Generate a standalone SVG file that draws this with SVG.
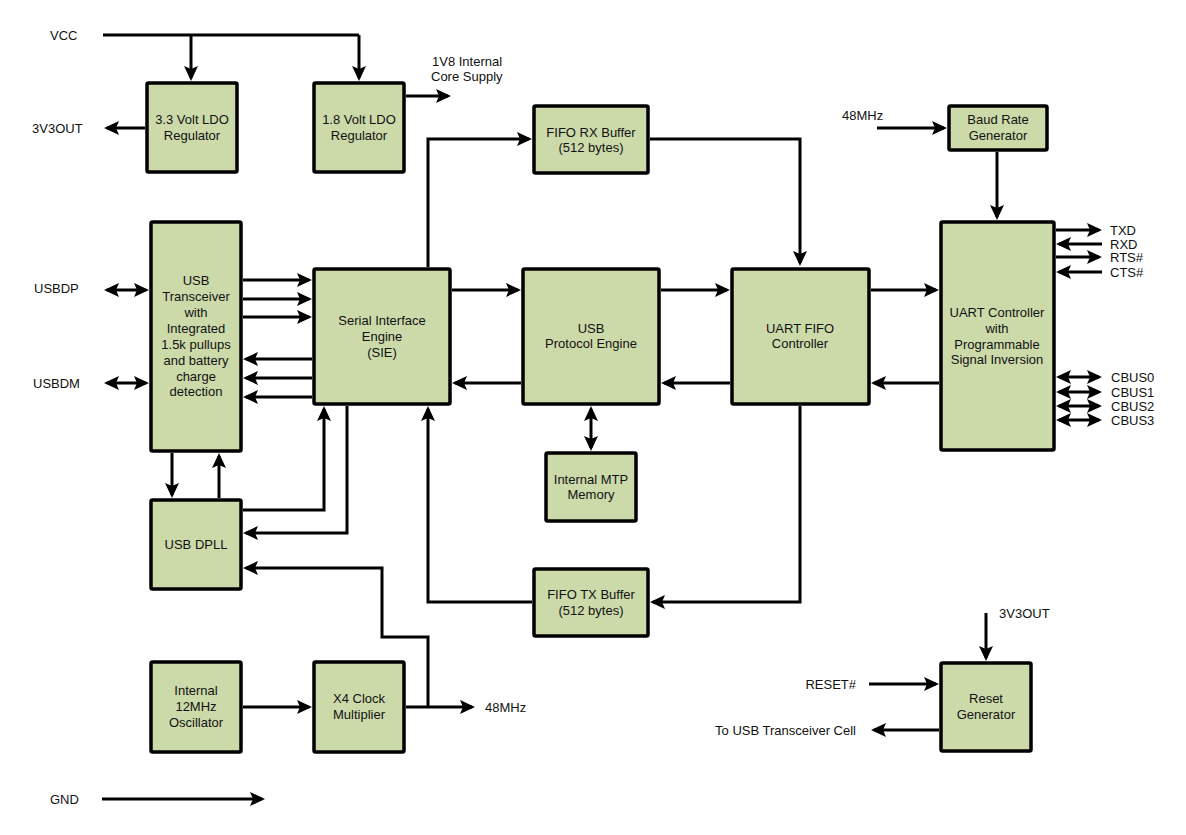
<svg xmlns="http://www.w3.org/2000/svg" width="1186" height="835" viewBox="0 0 1186 835">
<style>
.box{fill:#ccdaaa;stroke:#000;stroke-width:3.5;}
.t{font-family:"Liberation Sans",Arial,sans-serif;font-size:13px;fill:#111;text-anchor:middle;}
.l{font-family:"Liberation Sans",Arial,sans-serif;font-size:13px;fill:#111;}
.r{text-anchor:end;}
.c{fill:none;stroke:#000;stroke-width:3;}
.a{marker-end:url(#ah);}
.d{marker-start:url(#ah);marker-end:url(#ah);}
</style>
<defs>
<marker id="ah" markerUnits="userSpaceOnUse" markerWidth="15" markerHeight="14" refX="12" refY="7" orient="auto-start-reverse">
<path d="M0,0 L15,7 L0,14 L3,7 z" fill="#000"/>
</marker>
</defs>
<rect width="1186" height="835" fill="#fff"/>

<g id="connectors">
<path class="c" d="M103,35 H359"/>
<path class="c a" d="M191,35 V78"/>
<path class="c a" d="M359,35 V78"/>
<path class="c a" d="M145,128 H107"/>
<path class="c a" d="M406,96 H448"/>
<path class="c a" d="M428,267 V139 H529"/>
<path class="c a" d="M650,139 H800 V263"/>
<path class="c a" d="M877,128 H944"/>
<path class="c a" d="M997,152 V217"/>
<path class="c a" d="M1056,230 H1099"/>
<path class="c a" d="M1102,244 H1059"/>
<path class="c a" d="M1056,257 H1099"/>
<path class="c a" d="M1102,272 H1059"/>
<path class="c d" d="M1059,377 H1099"/>
<path class="c d" d="M1059,392 H1099"/>
<path class="c d" d="M1059,406 H1099"/>
<path class="c d" d="M1059,420 H1099"/>
<path class="c d" d="M107,290 H146"/>
<path class="c d" d="M107,383 H146"/>
<path class="c a" d="M243,280 H309"/>
<path class="c a" d="M243,299 H309"/>
<path class="c a" d="M243,317 H309"/>
<path class="c a" d="M312,359 H246"/>
<path class="c a" d="M312,378 H246"/>
<path class="c a" d="M312,397 H246"/>
<path class="c a" d="M452,290 H518"/>
<path class="c a" d="M661,290 H727"/>
<path class="c a" d="M871,290 H936"/>
<path class="c a" d="M939,383 H874"/>
<path class="c a" d="M730,383 H664"/>
<path class="c a" d="M521,383 H455"/>
<path class="c d" d="M591,409 V448"/>
<path class="c a" d="M800,406 V602 H653"/>
<path class="c a" d="M532,602 H428 V409"/>
<path class="c a" d="M172,453 V495"/>
<path class="c a" d="M219,498 V456"/>
<path class="c a" d="M243,510 H324 V409"/>
<path class="c a" d="M347,406 V533 H246"/>
<path class="c a" d="M406,707 H472"/>
<path class="c a" d="M428,707 V637 H382 V568 H246"/>
<path class="c a" d="M243,707 H309"/>
<path class="c a" d="M102,799 H262"/>
<path class="c a" d="M986,613 V658"/>
<path class="c a" d="M869,684 H936"/>
<path class="c a" d="M939,730 H874"/>
</g>

<g id="ldo33"><rect class="box" x="147" y="83" width="90" height="89" rx="1.5"/>
<text class="t" x="192" y="123.5">3.3 Volt LDO</text><text class="t" x="192" y="139.5">Regulator</text></g>
<g id="ldo18"><rect class="box" x="314" y="83" width="90" height="89" rx="1.5"/>
<text class="t" x="359" y="123.5">1.8 Volt LDO</text><text class="t" x="359" y="139.5">Regulator</text></g>
<g id="fiforx"><rect class="box" x="534" y="106" width="114" height="67" rx="1.5"/>
<text class="t" x="591" y="136.5">FIFO RX Buffer</text><text class="t" x="591" y="151.5">(512 bytes)</text></g>
<g id="baud"><rect class="box" x="949" y="106" width="98" height="44" rx="1.5"/>
<text class="t" x="998" y="123.5">Baud Rate</text><text class="t" x="998" y="139.5">Generator</text></g>
<g id="transceiver"><rect class="box" x="151" y="222" width="90" height="229" rx="1.5"/>
<text class="t" x="196" y="284.5">USB</text>
<text class="t" x="196" y="300.5">Transceiver</text>
<text class="t" x="196" y="317">with</text>
<text class="t" x="196" y="333">Integrated</text>
<text class="t" x="196" y="348.5">1.5k pullups</text>
<text class="t" x="196" y="364.5">and battery</text>
<text class="t" x="196" y="380.5">charge</text>
<text class="t" x="196" y="395.5">detection</text></g>
<g id="sie"><rect class="box" x="314" y="269" width="136" height="135" rx="1.5"/>
<text class="t" x="382" y="324.5">Serial Interface</text><text class="t" x="382" y="340.5">Engine</text><text class="t" x="382" y="356.5">(SIE)</text></g>
<g id="protocol"><rect class="box" x="523" y="269" width="136" height="135" rx="1.5"/>
<text class="t" x="591" y="332.5">USB</text><text class="t" x="591" y="347.5">Protocol Engine</text></g>
<g id="uartfifo"><rect class="box" x="732" y="269" width="137" height="135" rx="1.5"/>
<text class="t" x="800" y="332.5">UART FIFO</text><text class="t" x="800" y="347.5">Controller</text></g>
<g id="uartctrl"><rect class="box" x="941" y="222" width="113" height="228" rx="1.5"/>
<text class="t" x="997" y="316.5">UART Controller</text><text class="t" x="997" y="333">with</text><text class="t" x="997" y="348.5">Programmable</text><text class="t" x="997" y="364">Signal Inversion</text></g>
<g id="mtp"><rect class="box" x="546" y="453" width="90" height="68" rx="1.5"/>
<text class="t" x="591" y="483.5">Internal MTP</text><text class="t" x="591" y="498.5">Memory</text></g>
<g id="dpll"><rect class="box" x="151" y="500" width="90" height="89" rx="1.5"/>
<text class="t" x="196" y="548.5">USB DPLL</text></g>
<g id="fifotx"><rect class="box" x="534" y="569" width="114" height="67" rx="1.5"/>
<text class="t" x="591" y="598.5">FIFO TX Buffer</text><text class="t" x="591" y="614.5">(512 bytes)</text></g>
<g id="osc"><rect class="box" x="151" y="662" width="90" height="90" rx="1.5"/>
<text class="t" x="196" y="694.5">Internal</text><text class="t" x="196" y="710.5">12MHz</text><text class="t" x="196" y="726.5">Oscillator</text></g>
<g id="x4"><rect class="box" x="314" y="662" width="90" height="90" rx="1.5"/>
<text class="t" x="359" y="702.5">X4 Clock</text><text class="t" x="359" y="718.5">Multiplier</text></g>
<g id="reset"><rect class="box" x="941" y="663" width="90" height="88" rx="1.5"/>
<text class="t" x="986" y="702.5">Reset</text><text class="t" x="986" y="718.5">Generator</text></g>

<g id="labels">
<text class="l" x="50" y="39.5">VCC</text>
<text class="l" x="32" y="132.5">3V3OUT</text>
<text class="l" x="432" y="65.5">1V8 Internal</text>
<text class="l" x="431" y="80.5">Core Supply</text>
<text class="l" x="842" y="119.5">48MHz</text>
<text class="l" x="1110" y="234.5">TXD</text>
<text class="l" x="1110" y="248.5">RXD</text>
<text class="l" x="1110" y="261.5">RTS#</text>
<text class="l" x="1110" y="276.5">CTS#</text>
<text class="l" x="1111" y="381.5">CBUS0</text>
<text class="l" x="1111" y="396.5">CBUS1</text>
<text class="l" x="1111" y="410.5">CBUS2</text>
<text class="l" x="1111" y="424.5">CBUS3</text>
<text class="l" x="34" y="292.5">USBDP</text>
<text class="l" x="33" y="387.5">USBDM</text>
<text class="l" x="485" y="711.5">48MHz</text>
<text class="l" x="50" y="803.5">GND</text>
<text class="l" x="999" y="617.5">3V3OUT</text>
<text class="l r" x="856" y="688.5">RESET#</text>
<text class="l r" x="856" y="734.5">To USB Transceiver Cell</text>
</g>
</svg>
